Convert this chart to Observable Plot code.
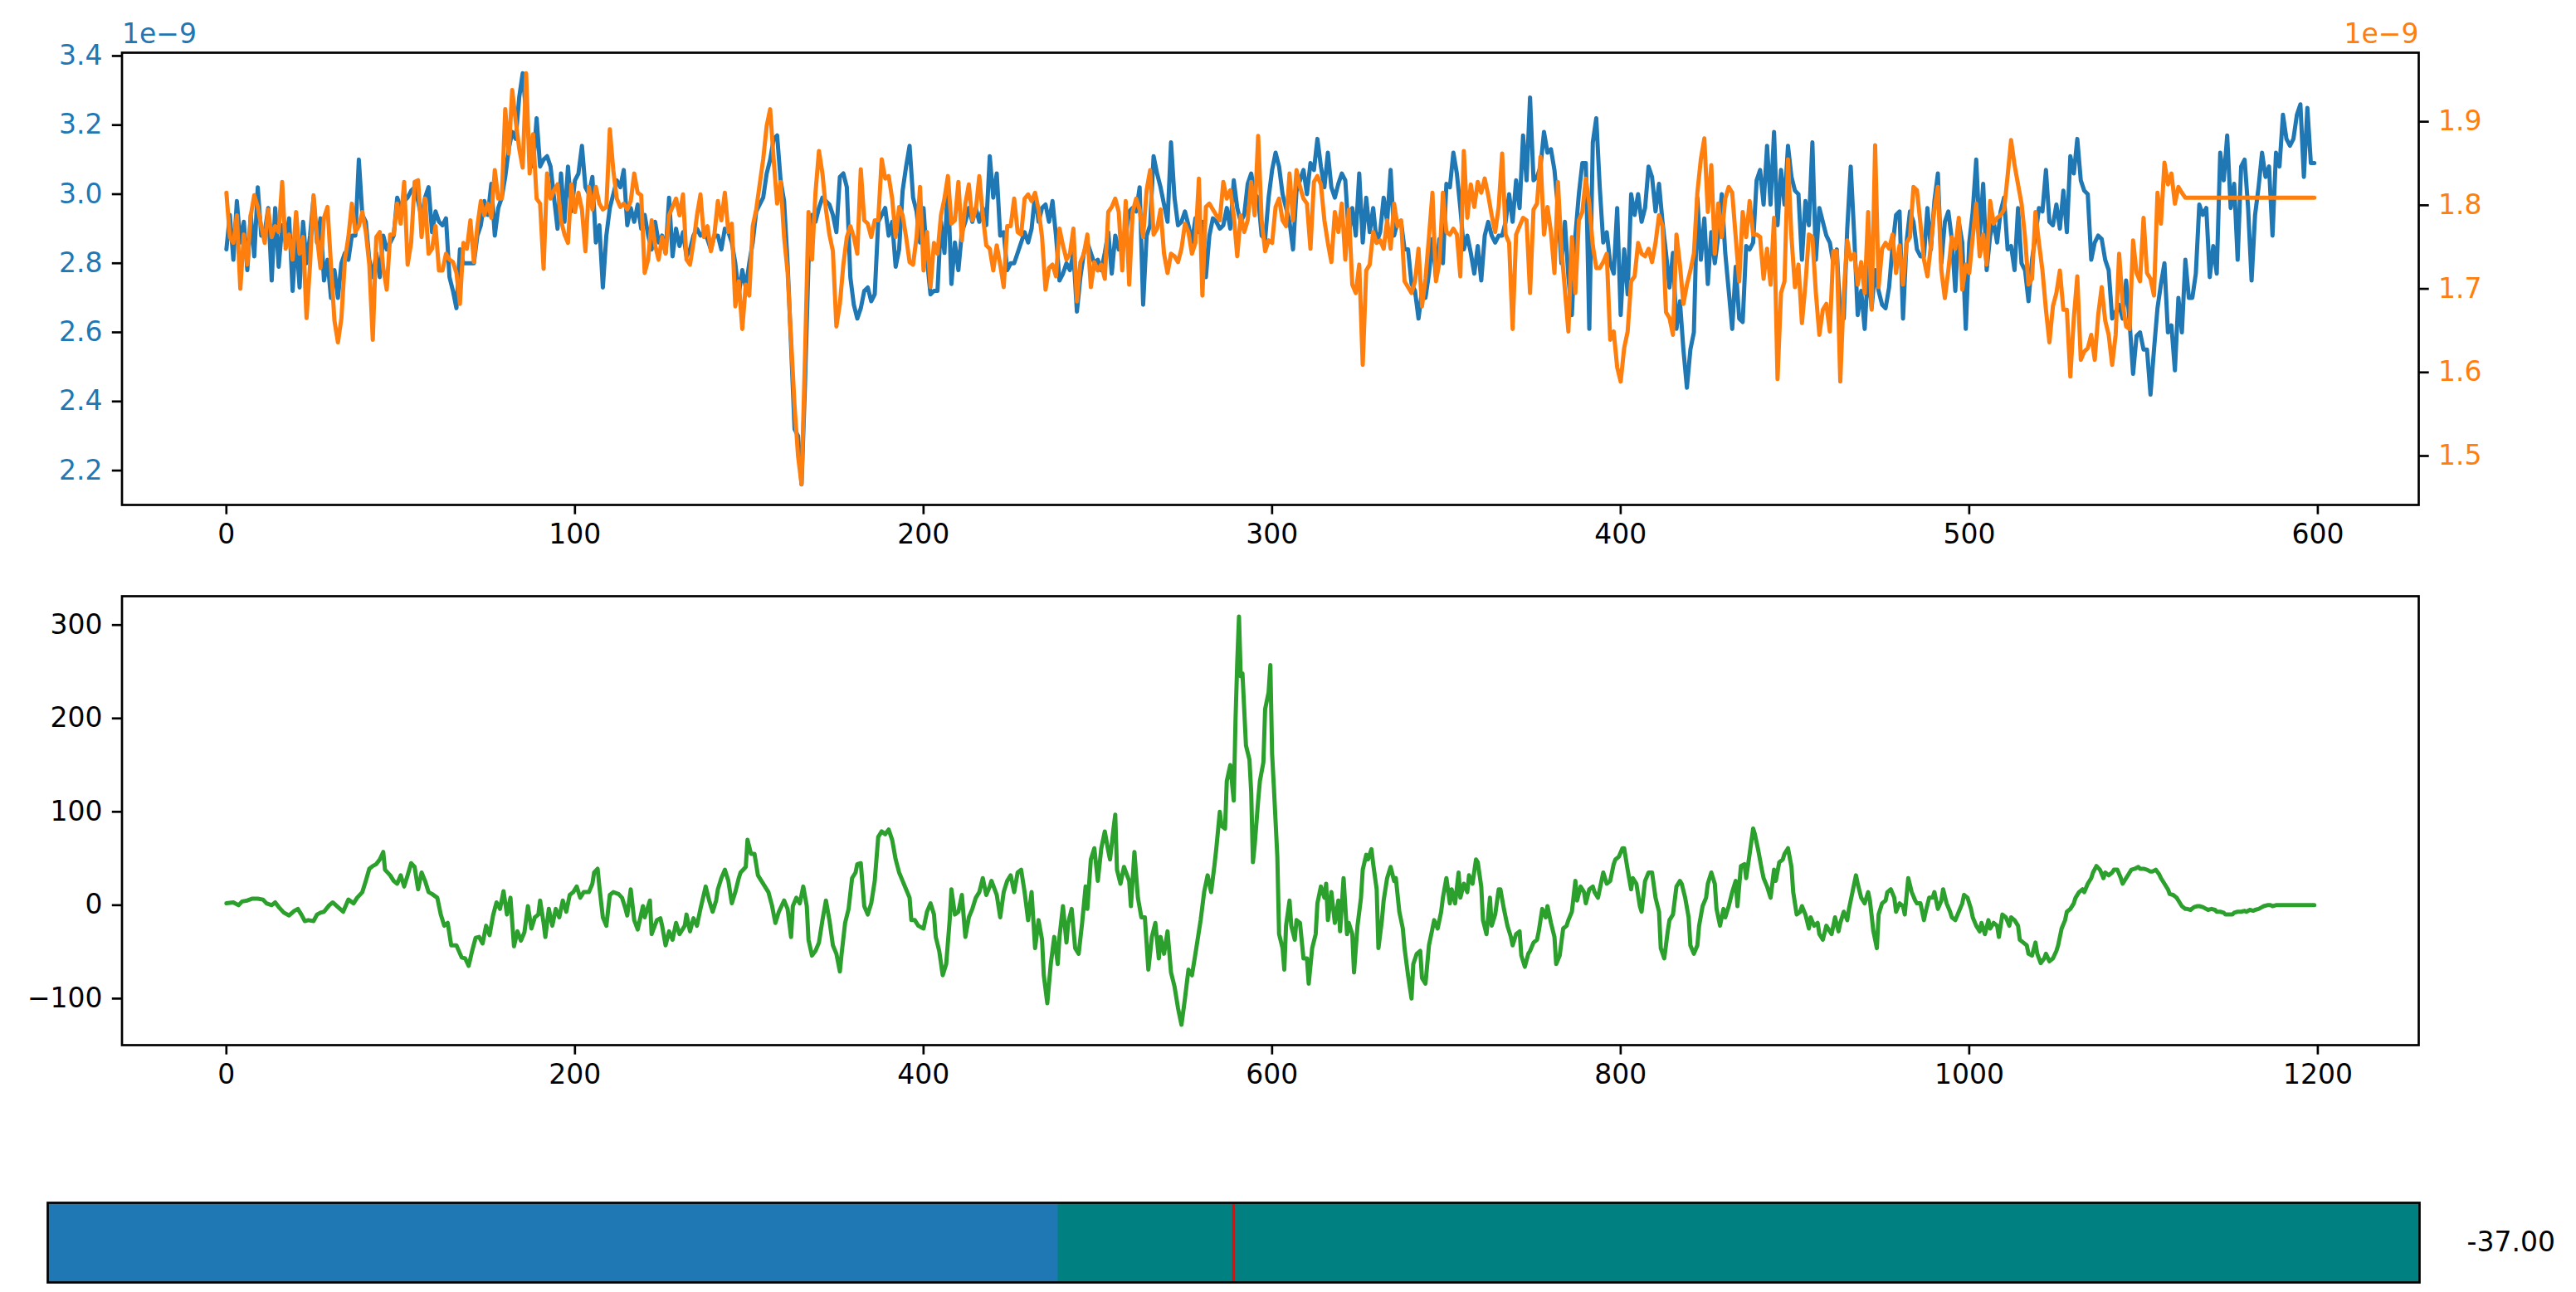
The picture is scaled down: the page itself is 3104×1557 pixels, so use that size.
<!DOCTYPE html>
<html><head><meta charset="utf-8">
<script src="https://cdn.jsdelivr.net/npm/d3@7"></script>
<script src="https://cdn.jsdelivr.net/npm/@observablehq/plot@0.6"></script>
<style>
html,body{margin:0;padding:0;background:#fff;}
#fig{position:relative;width:3104px;height:1557px;overflow:hidden;background:#fff;}
</style></head><body><div id="fig"></div>
<script>
// ---------- data ----------
const topXTicks = [0,100,200,300,400,500,600];
const leftTicks = [2.2,2.4,2.6,2.8,3.0,3.2,3.4];
const rightTicks = [1.5,1.6,1.7,1.8,1.9];
const midXTicks = [0,200,400,600,800,1000,1200];
const midYTicks = [-100,0,100,200,300];
const offsetText = "1e\u22129";

// blue series (left axis, units of 1e-9), one value per x = 0..599
const blueValues = [
2.84,2.94,2.81,2.98,2.86,2.92,2.78,2.94,2.82,3.02,2.88,2.89,2.96,2.75,2.96,2.79,2.91,2.86,2.93,2.72,
2.88,2.73,2.92,2.80,2.88,2.99,2.86,2.93,2.75,2.81,2.70,2.78,2.70,2.80,2.83,2.81,2.88,2.88,3.10,2.94,
2.92,2.81,2.76,2.83,2.76,2.88,2.84,2.86,2.88,2.99,2.96,2.98,2.99,3.01,3.02,2.98,2.93,2.99,3.02,2.89,
2.95,2.92,2.91,2.93,2.76,2.72,2.67,2.84,2.80,2.80,2.80,2.80,2.88,2.91,2.98,2.94,3.03,2.88,2.96,2.99,
3.05,3.13,3.18,3.16,3.28,3.35,3.23,3.14,3.08,3.22,3.08,3.10,3.11,3.08,2.99,2.90,3.06,2.92,3.08,2.95,
3.04,3.06,3.14,3.02,3.00,3.05,2.86,2.91,2.73,2.88,2.96,3.00,3.04,3.02,3.07,2.91,2.96,2.92,2.97,2.90,
2.94,2.88,2.84,2.92,2.86,2.88,2.83,2.99,2.82,2.90,2.85,2.89,2.82,2.84,2.88,2.90,2.88,2.89,2.87,2.84,
2.88,2.88,2.84,2.90,2.89,2.86,2.80,2.71,2.78,2.73,2.80,2.86,2.95,2.97,2.99,3.06,3.10,3.16,3.17,3.04,
2.98,2.80,2.56,2.32,2.30,2.16,2.45,
2.80,2.94,2.92,2.96,2.99,2.98,2.97,2.94,2.89,3.05,3.06,3.02,2.76,2.68,2.64,2.67,2.72,2.73,2.69,2.71,2.92,2.94,2.96,
2.88,2.92,2.79,2.84,3.01,3.08,3.14,2.99,2.95,2.86,2.96,2.81,2.71,2.72,2.72,2.92,2.83,3.03,2.74,2.86,
2.78,2.89,2.92,2.96,2.92,2.96,2.92,2.96,2.91,3.11,2.99,3.06,2.88,2.89,2.78,2.80,2.80,2.83,2.86,2.89,
2.86,2.90,3.00,2.92,2.96,2.97,2.92,2.98,2.88,2.75,2.77,2.80,2.78,2.83,2.66,2.76,2.83,2.86,2.83,2.80,
2.81,2.78,2.83,2.89,2.77,2.88,2.84,2.88,2.88,2.95,2.96,2.95,3.02,2.68,2.88,2.91,3.11,3.06,3.02,2.97,
2.92,3.15,2.99,2.91,2.92,2.95,2.91,2.86,2.93,2.89,2.92,2.76,2.88,2.93,2.92,2.90,2.91,2.96,2.90,3.04,
2.96,2.92,2.94,3.03,3.06,3.00,2.99,2.88,2.87,2.99,3.07,3.12,3.08,3.00,2.96,2.92,2.84,3.01,3.04,3.07,
3.00,3.09,3.07,3.16,3.08,3.02,3.12,3.02,2.99,3.03,3.06,3.04,2.88,2.96,2.88,3.06,2.86,2.99,2.89,2.96,
2.86,2.89,2.99,2.92,3.07,2.88,2.92,2.92,2.84,2.84,2.74,2.72,2.64,2.72,2.70,2.77,2.87,2.76,2.87,2.80,
3.03,3.02,3.12,3.06,2.96,2.84,2.88,2.83,2.77,2.85,2.75,2.88,2.92,2.88,2.86,2.88,2.88,2.92,3.00,2.92,
3.04,2.96,3.17,3.04,3.28,3.04,3.05,3.08,3.18,3.12,3.13,3.07,2.96,2.80,2.92,2.76,2.65,2.88,3.00,3.09,
3.09,2.61,3.15,3.22,3.02,2.86,2.89,2.80,2.77,2.96,2.65,2.84,2.71,3.00,2.94,3.00,2.92,2.96,3.08,3.05,2.95,
3.03,2.92,2.83,2.73,2.83,2.61,2.69,2.55,2.44,2.55,2.60,2.99,2.81,2.93,2.74,2.89,2.80,2.88,3.00,2.83,
2.72,2.61,2.79,2.64,2.63,2.85,2.84,2.86,3.04,3.07,2.97,3.14,2.97,3.18,2.91,3.07,2.97,3.14,3.05,3.01,
3.00,2.81,2.98,2.91,3.15,2.81,2.96,2.92,2.88,2.86,2.80,2.84,2.64,2.64,2.90,
3.08,2.88,2.65,2.72,2.61,2.79,2.67,2.78,2.72,2.68,2.67,2.73,2.85,2.94,2.95,2.64,2.86,2.95,2.92,2.84,
2.82,2.82,2.96,2.84,2.98,3.06,2.80,2.92,2.95,2.87,2.72,2.92,2.86,2.61,2.86,2.95,3.10,2.88,3.03,2.78,
2.88,2.92,2.86,2.95,2.99,2.84,2.85,2.78,2.96,2.80,2.78,2.69,2.81,2.88,2.96,2.95,3.07,2.92,2.91,2.97,
2.90,3.01,2.89,3.11,3.06,3.16,3.04,3.01,3.00,2.81,2.86,2.88,2.87,2.81,2.78,2.64,2.66,2.68,2.64,2.75,
2.63,2.48,2.59,2.60,2.55,2.55,2.42,2.55,2.67,2.74,2.80,2.60,2.62,2.49,2.70,2.60,2.81,2.70,2.70,
2.77,2.97,2.94,2.96,2.76,2.85,2.77,3.12,3.04,3.17,2.96,3.03,2.81,3.08,
3.10,2.96,2.75,2.94,3.02,3.12,3.05,3.08,2.88,3.12,3.08,3.23,3.16,3.14,3.16,3.23,3.26,3.05,3.25,3.09,3.09
];

// orange series (right axis, units of 1e-9), one value per x
const orangeValues = [
1.815,1.762,1.755,1.788,1.700,1.765,1.729,1.788,1.812,1.798,1.775,1.755,1.795,1.762,1.775,1.768,1.828,1.748,1.765,1.735,
1.792,1.742,1.762,1.665,1.729,1.812,1.762,1.725,1.785,1.798,1.729,1.662,1.636,1.665,1.735,1.762,1.802,1.768,1.775,1.792,
1.768,1.729,1.639,1.762,1.768,1.725,1.699,1.765,1.765,1.802,1.778,1.828,1.729,1.755,1.828,1.830,1.762,1.808,1.742,1.748,
1.775,1.722,1.722,1.742,1.735,1.732,1.719,1.682,1.755,1.748,1.782,1.732,1.775,1.805,1.788,1.802,1.785,1.842,1.808,1.808,
1.915,1.862,1.938,1.901,1.868,1.845,1.958,1.838,1.885,1.808,1.802,1.724,1.838,1.808,1.818,1.825,1.782,1.765,1.755,1.825,
1.792,1.815,1.795,1.745,1.822,1.795,1.822,1.802,1.795,1.798,1.891,1.842,1.808,1.798,1.802,1.795,1.805,1.838,1.815,1.812,
1.719,1.735,1.782,1.752,1.735,1.762,1.742,1.788,1.798,1.808,1.788,1.813,1.735,1.729,1.755,1.788,1.813,1.762,1.775,1.745,
1.765,1.805,1.782,1.815,1.768,1.778,1.679,1.709,1.652,1.705,1.692,1.775,1.795,1.825,1.855,1.895,1.915,1.855,1.802,1.828,
1.762,1.72,1.64,1.56,1.50,1.466,1.62,
1.792,1.735,1.815,1.865,1.838,1.795,1.765,1.745,1.655,1.682,1.729,1.762,1.775,1.762,1.742,1.843,1.782,1.778,1.762,1.782,1.782,1.855,1.832,
1.835,1.808,1.762,1.798,1.788,1.762,1.732,1.729,1.762,1.822,1.722,1.768,1.702,1.755,1.742,1.788,1.808,1.835,1.778,1.782,
1.828,1.758,1.802,1.825,1.782,1.795,1.835,1.788,1.752,1.748,1.722,
1.752,1.729,1.702,1.775,1.775,1.808,1.768,1.765,1.808,1.813,1.805,1.815,1.795,1.762,1.699,1.725,1.729,1.715,1.772,1.752,
1.735,1.742,1.772,1.685,1.732,1.742,1.765,1.702,1.732,1.722,1.729,1.712,1.792,1.798,1.808,1.792,1.722,1.805,1.705,1.792,
1.808,1.795,1.762,1.818,1.842,1.765,1.772,1.795,1.742,1.719,1.742,1.739,1.732,1.748,1.778,1.768,1.742,1.755,1.832,
1.692,1.798,1.802,1.795,1.788,1.782,1.828,1.808,1.818,1.788,1.739,1.788,1.768,1.782,1.828,1.788,1.883,1.782,1.745,1.758,
1.755,1.798,1.808,1.782,1.775,1.838,1.782,1.842,1.822,1.808,1.802,1.748,1.828,1.835,1.825,1.782,1.755,1.732,1.792,1.768,
1.802,1.735,1.795,1.705,1.695,1.729,1.609,1.722,1.729,1.768,1.755,1.758,1.748,1.782,1.748,1.802,1.775,1.782,1.709,1.702,
1.695,1.709,1.748,1.679,1.712,1.762,1.815,1.709,1.732,1.815,1.768,1.765,1.772,1.765,1.715,1.865,1.785,1.825,1.798,1.828,
1.815,1.832,1.812,1.788,1.768,1.798,1.862,1.765,1.755,1.652,1.765,1.775,1.785,1.782,1.695,1.795,1.802,1.858,1.765,1.798,
1.768,1.719,1.828,1.748,1.699,1.649,1.762,1.695,1.782,1.792,
1.832,1.802,1.752,1.725,1.725,1.732,1.742,1.639,1.649,1.606,1.589,1.629,1.649,1.709,1.715,1.755,1.742,1.739,1.748,1.732,1.755,1.788,
1.775,1.672,1.665,1.645,1.765,1.729,1.682,1.705,1.722,1.742,1.815,1.855,1.880,1.792,1.848,1.742,1.802,1.762,1.808,1.822,
1.815,1.762,1.709,1.792,1.762,1.805,1.765,1.765,1.762,1.712,1.748,1.705,1.785,1.592,1.695,1.709,1.855,1.762,1.702,1.729,
1.659,1.705,1.765,1.762,1.695,1.645,1.675,1.682,1.649,1.745,1.745,1.589,1.695,1.758,1.735,1.742,1.705,1.732,1.695,1.792,
1.675,1.872,1.702,1.748,1.755,1.748,1.765,1.719,1.752,1.705,1.755,1.762,1.822,1.818,1.778,1.735,1.715,1.752,1.795,1.822,
1.722,1.689,1.722,1.762,1.748,1.785,
1.699,1.729,1.719,1.762,1.802,1.739,1.765,1.729,1.805,1.778,1.785,1.788,1.795,1.835,1.878,1.848,1.825,1.802,1.762,1.705,
1.712,1.792,1.755,1.722,1.675,1.636,1.679,1.695,1.722,1.675,1.675,1.595,1.665,1.715,1.615,1.625,
1.629,1.645,1.615,1.669,1.702,1.662,1.645,1.609,1.645,1.742,1.682,1.655,1.652,1.758,1.719,1.709,1.785,1.719,1.712,1.692,
1.815,1.778,1.851,1.825,1.838,1.802,1.822,1.815,1.809,
1.809,1.809,1.809,1.809,1.809,1.809,1.809,1.809,1.809,1.809,1.809,1.809,1.809,1.809,1.809,1.809,1.809,1.809,1.809,1.809,
1.809,1.809,1.809,1.809,1.809,1.809,1.809,1.809,1.809,1.809,1.809,1.809,1.809,1.809,1.809,1.809,1.809
];

// green series: [lag, value]
const greenSeries = [
[0,2],[4,3],[7,0],[9,4],[12,5],[15,7],[18,7],[21,6],[23,2],[26,0],[28,3],[30,-2],[33,-8],[36,-11],[39,-6],[41,-4],[43,-10],[45,-17],[47,-16],[50,-17],
[52,-10],[54,-8],[56,-7],[59,0],[61,3],[64,-2],[67,-7],[70,6],[73,2],[75,8],[78,14],[80,26],[82,39],[84,42],[86,44],[88,49],[90,57],[91,38],[94,32],[96,26],
[98,23],[100,32],[102,20],[104,32],[106,45],[108,41],[110,17],[112,35],[114,26],[116,14],[118,12],[121,8],[123,-10],[125,-22],[127,-19],[129,-43],[132,-43],[135,-56],[137,-57],[139,-65],
[141,-49],[143,-35],[145,-34],[147,-41],[149,-22],[151,-32],[153,-11],[155,3],[157,-4],[159,15],[161,-10],[163,8],[165,-44],[167,-28],[169,-38],[171,-29],[173,-1],[175,-25],[177,-13],[179,-10],
[180,5],[182,-19],[183,-34],[185,-4],[187,-22],[189,-4],[191,-13],[193,5],[195,-7],[197,11],[199,14],[201,20],[203,8],[205,14],[208,14],[210,23],[211,35],[213,39],[214,20],[216,-13],
[218,-22],[220,11],[222,14],[225,12],[227,8],[229,-4],[230,-11],[232,17],[234,-16],[236,-26],[239,-1],[240,-13],[243,5],[244,-31],[247,-16],[249,-14],[250,-22],[252,-43],[254,-28],[256,-37],
[258,-19],[260,-31],[263,-22],[264,-10],[266,-28],[268,-14],[270,-22],[272,-4],[275,20],[277,5],[279,-7],[281,5],[282,17],[284,29],[286,38],[288,26],[290,2],[292,14],[294,29],[295,35],
[298,41],[299,70],[301,55],[303,55],[305,32],[307,26],[309,20],[311,14],[313,0],[315,-19],[317,-7],[320,5],[322,-4],[324,-34],[325,-1],[327,8],[329,2],[331,20],[333,-1],[334,-37],
[336,-54],[338,-49],[340,-40],[342,-16],[344,5],[346,-16],[348,-43],[350,-52],[352,-71],[353,-52],[355,-19],[357,-4],[359,29],[361,35],[362,44],[364,45],[366,-1],[368,-10],[370,2],[372,26],
[374,73],[376,79],[378,76],
[380,81],[382,70],[384,49],[386,35],[388,26],[390,17],[392,8],[393,-16],[395,-16],[397,-22],[400,-25],[402,-7],[404,2],[406,-10],[407,-34],[409,-49],[411,-75],[413,-63],[415,-16],[416,17],
[418,-10],[420,-7],[422,11],[424,-34],[426,-13],[428,-4],[430,8],[432,14],[434,29],[436,11],[438,20],[439,26],[442,11],[444,-13],[446,14],[448,26],[450,32],[452,14],[454,35],[456,38],
[458,14],[460,-16],[462,14],[464,-46],[466,-16],[468,-37],[469,-75],[471,-105],[473,-63],[475,-34],[477,-63],[478,-34],[480,-1],[482,-40],[483,-19],[485,-4],[487,-46],[489,-52],[491,-19],[493,20],
[494,-4],[496,49],[498,61],[500,26],[502,61],[504,79],[506,58],[507,49],[509,82],[510,97],[511,38],[513,23],[515,41],[518,26],[519,-1],[521,57],[523,8],[525,-13],[527,-13],[529,-69],
[531,-34],[533,-19],[535,-57],[536,-34],[538,-52],[540,-28],[542,-72],[544,-87],[546,-110],[548,-128],[550,-100],[552,-69],[554,-75],[556,-52],[558,-28],[559,-16],[561,14],[563,32],[565,14],[567,44],
[568,61],[570,100],[571,85],[573,82],[574,133],[576,150],[578,112],[579,198],[580,260],[581,309],[582,245],[583,248],[585,171],[587,156],[588,121],[589,46],[590,64],[592,112],[593,133],[595,153],
[596,210],[598,228],[599,257],[600,162],[601,127],[603,52],[604,-31],[606,-46],[607,-69],[608,-22],[610,5],[611,-22],[613,-37],[614,-16],[616,-19],[618,-57],[620,-57],[621,-84],[623,-46],[625,-31],
[626,2],[628,20],[630,8],[631,23],[632,-16],[634,14],[636,-19],[638,5],[639,-28],[641,29],[643,-31],[644,-19],[646,-31],[647,-72],[649,-22],[651,8],[652,38],[654,54],[655,49],[657,60],
[658,44],[660,17],[661,-46],[663,-16],[664,5],[666,29],[668,41],[670,26],[671,29],[673,-7],[675,-25],[676,-46],[678,-75],[680,-100],[681,-63],[683,-52],[685,-49],[686,-78],[688,-84],[690,-43],
[692,-25],[693,-16],[695,-25],[697,-7],[698,8],[700,29],[702,2],[703,17],[705,2],[707,35],[708,8],[710,23],[712,14],[713,32],[715,23],[717,49],[718,46],[720,20],[721,-16],[723,-31],
[725,8],[726,-22],[728,-10],[730,17],[731,17],[733,-4],[735,-22],[737,-34],[738,-43],[740,-31],[742,-28],[743,-54],[745,-66],[747,-52],[748,-49],[750,-40],[752,-37],[753,-28],[755,-4],[757,-13],
[758,-1],[760,-19],[762,-34],[763,-63],[765,-54],[767,-25],[769,-22],[770,-16],[772,-7],[774,26],[775,5],[777,20],[779,14],[780,2],[782,17],[784,20],[785,14],[787,8],[789,26],[790,35],
[792,23],[794,26],[796,44],[797,49],[799,52],[801,61],[802,61],[804,38],[806,17],[807,29],[809,23],[811,-1],[812,-7],[814,26],[816,35],
[818,35],[820,8],[822,-7],[823,-46],[825,-57],[827,-28],[828,-16],[830,-10],[832,20],[834,26],[835,23],[837,8],[839,-13],[840,-43],[842,-52],[844,-43],[845,-22],[847,-1],[849,8],[850,23],
[852,35],[854,23],[855,-4],[857,-22],[859,-4],[860,-13],[862,-1],[864,14],[866,26],[867,-1],[869,42],[871,44],[872,29],[874,55],[876,82],[877,76],[879,58],[881,38],[882,29],[884,20],
[886,8],[888,38],[889,26],[891,46],[893,49],[894,55],[896,61],[898,41],[899,14],[901,-10],[903,-7],[904,-1],[906,-10],[908,-25],[909,-13],[911,-22],[913,-19],[914,-31],[916,-37],[918,-22],
[920,-28],[921,-31],[923,-13],[925,-28],[926,-19],[928,-7],[930,-16],[931,-4],[933,14],[935,32],[936,23],[938,8],[940,2],[942,14],[943,5],[945,-28],[947,-46],[948,-10],[950,2],[952,5],
[953,14],[955,17],[957,8],[958,-7],[960,2],[962,-1],[963,-10],[965,29],[967,14],[969,5],[970,2],[972,2],[974,-16],[975,-7],[977,8],[979,8],[980,14],[982,-4],[984,5],[985,17],
[987,2],[989,-7],[990,-13],[992,-16],[994,-7],[996,2],[997,11],[999,8],[1001,-4],[1002,-13],[1004,-22],[1006,-28],[1007,-19],[1009,-31],[1011,-16],[1012,-25],[1014,-19],[1016,-22],[1017,-34],[1019,-10],
[1021,-13],[1023,-22],[1024,-13],[1026,-16],[1028,-22],[1029,-37],[1031,-40],[1033,-43],[1034,-52],[1036,-54],[1038,-40],[1039,-52],[1041,-62],[1043,-57],[1044,-52],[1046,-60],[1048,-57],[1050,-49],[1051,-43],[1053,-25],
[1055,-16],[1056,-7],[1058,-4],[1060,2],[1061,8],[1063,14],[1065,17],[1066,14],[1068,23],[1070,29],[1071,35],[1073,42],[1075,38],[1077,29],[1078,35],[1080,32],[1082,35],[1083,38],[1085,38],[1087,29],
[1088,23],[1090,29],[1092,35],[1093,38],[1095,39],[1097,41],[1098,39],[1100,39],[1102,38],[1104,36],[1105,36],[1107,38],[1109,33],[1110,29],[1112,23],[1114,17],[1115,12],[1117,11],[1119,8],[1120,5],
[1122,-1],[1124,-4],[1125,-4],[1127,-5],[1129,-2],[1131,-1],[1132,-1],[1134,-2],[1136,-4],[1137,-5],[1139,-4],[1141,-5],[1142,-7],[1144,-7],[1146,-8],[1147,-10],[1149,-10],[1151,-10],[1152,-8],[1154,-7],
[1156,-7],[1158,-6],[1159,-7],[1161,-5],[1163,-6],[1164,-5],[1166,-4],[1168,-2],[1169,-1],[1171,0],[1173,0],[1174,-1],[1176,0],[1178,0],[1179,0],[1181,0],[1183,0],[1185,0],[1186,0],[1188,0],
[1190,0],[1191,0],[1193,0],[1195,0],[1196,0],[1198,0]
];

// slider widget
const sliderMin = -250, sliderMax = 250, sliderInit = 0, sliderValue = -37;
const sliderText = "-37.00";

// ---------- drawing ----------
const fig = document.getElementById("fig");
const W = 3104;
const FONT = "DejaVu Sans";
const baseStyle = {fontFamily: FONT, fontSize: "33px", background: "transparent", overflow: "visible", color: "black"};
const BLUE = "#1f77b4", ORANGE = "#ff7f0e", GREEN = "#2ca02c";
const TICK = 11.7, PAD = 11.7, SPINE = 2.7, LW = 5;

function pad(ext) { const r = ext[1] - ext[0]; return [ext[0] - 0.05 * r, ext[1] + 0.05 * r]; }
function place(el, top) { el.style.position = "absolute"; el.style.left = "0px"; el.style.top = top + "px"; fig.appendChild(el); }

const blueData = blueValues.map((v, i) => ({x: i, y: v}));
const orangeData = orangeValues.map((v, i) => ({x: i, y: v}));
const greenData = greenSeries.map(([x, y]) => ({x, y}));
const xTop = pad([0, blueValues.length - 1]);

const topM = {marginTop: 63, marginBottom: 82, marginLeft: 146.5, marginRight: 190};

const topLeft = Plot.plot({
  width: W, height: 690, ...topM, style: baseStyle,
  x: {domain: xTop},
  y: {domain: pad(d3.extent(blueValues))},
  marks: [
    Plot.line(blueData, {x: "x", y: "y", stroke: BLUE, strokeWidth: LW, clip: true}),
    Plot.axisX({ticks: topXTicks, tickFormat: d3.format("d"), tickSize: TICK, tickPadding: PAD, stroke: "black", fill: "black", strokeWidth: SPINE, label: null}),
    Plot.axisY({ticks: leftTicks, tickFormat: d3.format(".1f"), tickSize: TICK, tickPadding: PAD, stroke: "black", fill: BLUE, strokeWidth: SPINE, label: null}),
    Plot.text([offsetText], {frameAnchor: "top-left", textAnchor: "start", lineAnchor: "middle", dy: -22, fill: BLUE})
  ]
});
place(topLeft, 0);

const topRight = Plot.plot({
  width: W, height: 690, ...topM, style: baseStyle,
  x: {domain: xTop, axis: null},
  y: {domain: pad(d3.extent(orangeValues))},
  marks: [
    Plot.line(orangeData, {x: "x", y: "y", stroke: ORANGE, strokeWidth: LW, clip: true}),
    Plot.axisY({anchor: "right", ticks: rightTicks, tickFormat: d3.format(".1f"), tickSize: TICK, tickPadding: PAD, stroke: "black", fill: ORANGE, strokeWidth: SPINE, label: null}),
    Plot.frame({stroke: "black", strokeWidth: SPINE}),
    Plot.text([offsetText], {frameAnchor: "top-right", textAnchor: "end", lineAnchor: "middle", dy: -22, fill: ORANGE})
  ]
});
place(topRight, 0);

const mid = Plot.plot({
  width: W, height: 650, marginTop: 28, marginBottom: 81, marginLeft: 146.5, marginRight: 190, style: baseStyle,
  x: {domain: pad(d3.extent(greenData, d => d.x))},
  y: {domain: pad(d3.extent(greenData, d => d.y))},
  marks: [
    Plot.line(greenData, {x: "x", y: "y", stroke: GREEN, strokeWidth: LW, clip: true}),
    Plot.axisX({ticks: midXTicks, tickFormat: d3.format("d"), tickSize: TICK, tickPadding: PAD, stroke: "black", fill: "black", strokeWidth: SPINE, label: null}),
    Plot.axisY({ticks: midYTicks, tickFormat: d3.format("d"), tickSize: TICK, tickPadding: PAD, stroke: "black", fill: "black", strokeWidth: SPINE, label: null}),
    Plot.frame({stroke: "black", strokeWidth: SPINE})
  ]
});
place(mid, 690);

const slider = Plot.plot({
  width: W, height: 217, marginTop: 109, marginBottom: 12, marginLeft: 57, marginRight: 189, style: baseStyle,
  x: {domain: [sliderMin, sliderMax], axis: null},
  marks: [
    Plot.rect([{a: sliderMin, b: sliderMax}], {x1: "a", x2: "b", fill: "#008080"}),
    Plot.rect([{a: sliderMin, b: sliderValue}], {x1: "a", x2: "b", fill: BLUE}),
    Plot.ruleX([sliderInit], {stroke: "red", strokeWidth: 3.3}),
    Plot.frame({stroke: "black", strokeWidth: SPINE}),
    Plot.text([sliderText], {frameAnchor: "right", textAnchor: "start", lineAnchor: "middle", dx: 57, fill: "black"})
  ]
});
place(slider, 1340);
</script></body></html>
